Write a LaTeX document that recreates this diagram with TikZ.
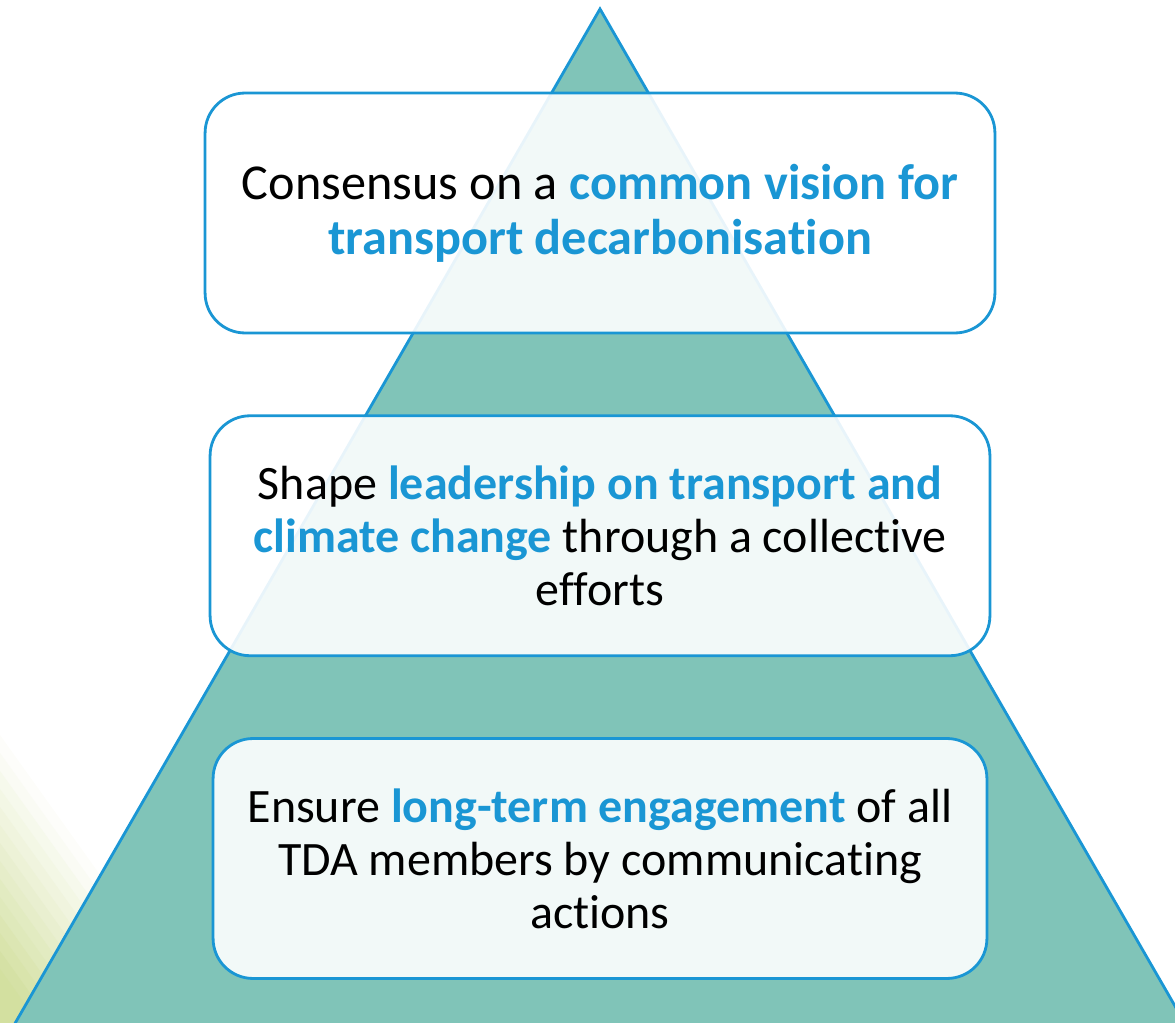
\documentclass[tikz,border=0pt]{standalone}
\usepackage{fontspec}
\setmainfont[Ligatures=CommonOff]{Carlito}
\usetikzlibrary{positioning}
\definecolor{tdateal}{HTML}{80C4B8}
\definecolor{tdablue}{HTML}{1A96D4}
\definecolor{tdalime}{HTML}{D3E0A0}
\newcommand{\keyterm}[1]{\textbf{\color{tdablue}#1}}

\begin{document}
\begin{tikzpicture}[
        x=0.02cm, y=-0.02cm,
        node distance=1.6cm,
        goal/.style={rectangle, draw=tdablue, line width=1.6pt, fill=white, fill opacity=0.9, text opacity=1, rounded corners=0.8cm, minimum height=4.8cm, align=center, font=\fontsize{27.3}{30.2}\selectfont},
        pyramid/.style={fill=tdateal, draw=tdablue, line width=1.6pt, line join=miter}
    ]
        \useasboundingbox (0,0) rectangle (1175,1023);
        \clip (0,0) rectangle (1175,1023);

        % Background glow, bottom left
        \foreach \i in {16,...,1} {
            \pgfmathsetmacro{\s}{\i/16}
            \pgfmathtruncatemacro{\mix}{min(100,125-120*\s)}
            \fill[tdalime!\mix!white] (0,1023) -- (0,{1023-288*\s}) -- ({206*\s},1023) -- cycle;
        }
        \draw[pyramid] (600,9) -- (1209,1065) -- (-9,1065) -- cycle;

        % Goals
        \node[goal, minimum width=15.8cm, font=\fontsize{28.6}{31.3}\selectfont] (vision) at (600,213)
            {Consensus on a \keyterm{common vision for}\\\keyterm{transport decarbonisation}};
        \node[goal, minimum width=15.6cm] (leadership) [below=of vision]
            {Shape \keyterm{leadership on transport and}\\\keyterm{climate change} through a collective\\efforts};
        \node[goal, minimum width=15.48cm] (engagement) [below=of leadership]
            {Ensure \keyterm{long-term engagement} of all\\TDA members by communicating\\actions};
    \end{tikzpicture}
\end{document}
